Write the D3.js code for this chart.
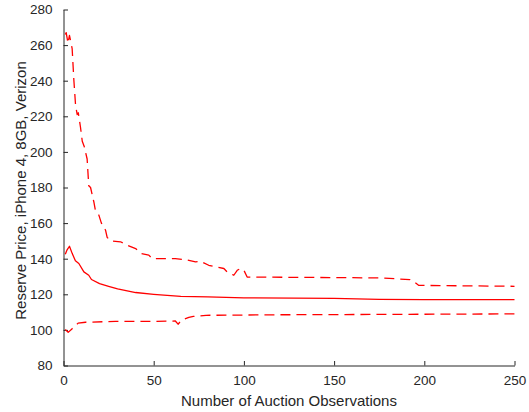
<!DOCTYPE html>
<html>
<head>
<meta charset="utf-8">
<script src="https://cdn.jsdelivr.net/npm/d3@7"></script>
<style>
  html, body { margin: 0; padding: 0; background: #fff; }
  svg { display: block; }
  text { font-family: "Liberation Sans", Arial, Helvetica, sans-serif; fill: #262626; }
</style>
</head>
<body>
<svg id="chart" width="529" height="412"></svg>
<script>
// Reserve price estimate as auction observations accumulate
const xTicks = [0, 50, 100, 150, 200, 250];
const yTicks = [80, 100, 120, 140, 160, 180, 200, 220, 240, 260, 280];

// Upper band (dashed)
const upperObs = [1, 1.5, 2.5, 3.3, 4, 4.8, 5.7, 6.7, 7.6, 8.2, 9.4, 10.4, 11.5, 13.1, 14, 15, 16.8, 17.7, 19.6, 21, 23.3, 24.2, 26, 31.6, 35.3, 40, 42.7, 47.3, 49.2, 62, 67.6, 73.2, 76, 80.5, 84.3, 88.9, 90.7, 94.4, 96.3, 98.1, 100, 101.8, 150, 175, 192, 195, 197, 250];
const upperVals = [266, 267, 261, 265.5, 262, 258, 241, 226, 221, 222, 214, 206, 203, 196, 181, 180, 172, 167, 164.5, 160, 156, 152, 150, 149.5, 147.6, 145.7, 143, 142, 140, 140, 139.5, 138.2, 138.5, 136.3, 135.4, 134.5, 132.6, 130.7, 133.5, 134.5, 133.5, 129.7, 129.4, 129.2, 128.3, 126.5, 125, 124.5];

// Point estimate (solid)
const meanObs = [1, 2, 3.3, 4.8, 6.6, 8.5, 11.3, 14, 15.5, 20, 25, 30, 40, 50, 65, 80, 100, 150, 175, 200, 250];
const meanVals = [142.5, 145, 147, 143, 138.8, 137.3, 132.6, 130.7, 128.3, 126, 124.5, 123, 121, 120, 118.8, 118.5, 118, 117.7, 117.2, 117, 117];

// Lower band (dashed)
const lowerObs = [1, 2.6, 4.8, 8.1, 12.2, 28.8, 50, 62, 63.5, 65.5, 69.5, 72, 79, 120, 175, 250];
const lowerVals = [100.2, 98.6, 100.7, 103.8, 104.3, 104.8, 104.8, 105, 103.2, 105.5, 107, 107.6, 108.2, 108.5, 108.7, 109];

const xLabel = "Number of Auction Observations";
const yLabel = "Reserve Price, iPhone 4, 8GB, Verizon";

const svg = d3.select("#chart");
const plotLeft = 63.5, plotRight = 514.5, plotTop = 9.5, plotBottom = 365.5;

const x = d3.scaleLinear().domain([0, 250]).range([plotLeft, plotRight]);
const y = d3.scaleLinear().domain([80, 280]).range([plotBottom, plotTop]);

const axisColor = "#262626";
const tickLen = 4.5;

// x axis: ticks point inward (upward)
const gx = svg.append("g").attr("transform", `translate(0,${plotBottom})`)
  .call(d3.axisBottom(x).tickValues(xTicks).tickSizeInner(-tickLen).tickSizeOuter(0).tickPadding(10));
gx.select(".domain").attr("stroke", axisColor);
gx.selectAll(".tick line").attr("stroke", axisColor);
gx.selectAll(".tick text").attr("font-size", "13.5px").attr("fill", axisColor)
  .attr("font-family", "Liberation Sans, Arial, sans-serif");

// y axis: ticks point inward (rightward)
const gy = svg.append("g").attr("transform", `translate(${plotLeft},0)`)
  .call(d3.axisLeft(y).tickValues(yTicks).tickSizeInner(-tickLen).tickSizeOuter(0).tickPadding(11));
gy.select(".domain").attr("stroke", axisColor);
gy.selectAll(".tick line").attr("stroke", axisColor);
gy.selectAll(".tick text").attr("font-size", "13.5px").attr("fill", axisColor)
  .attr("font-family", "Liberation Sans, Arial, sans-serif");

// series
const line = d3.line().x(d => x(d[0])).y(d => y(d[1]));
const series = [
  { obs: upperObs, vals: upperVals, dash: "10,6" },
  { obs: meanObs, vals: meanVals, dash: null },
  { obs: lowerObs, vals: lowerVals, dash: "10,6" }
];
series.forEach(s => {
  const pts = s.obs.map((o, i) => [o, s.vals[i]]);
  svg.append("path")
    .attr("d", line(pts))
    .attr("fill", "none")
    .attr("stroke", "#ff0000")
    .attr("stroke-width", 1.3)
    .attr("stroke-linejoin", "round")
    .attr("stroke-dasharray", s.dash);
});

// axis titles
svg.append("text")
  .attr("x", (plotLeft + plotRight) / 2)
  .attr("y", 406)
  .attr("text-anchor", "middle")
  .attr("font-size", "15px")
  .text(xLabel);

svg.append("text")
  .attr("transform", `translate(26,${(plotTop + plotBottom) / 2 + 3}) rotate(-90)`)
  .attr("text-anchor", "middle")
  .attr("font-size", "15px")
  .text(yLabel);
</script>
</body>
</html>
